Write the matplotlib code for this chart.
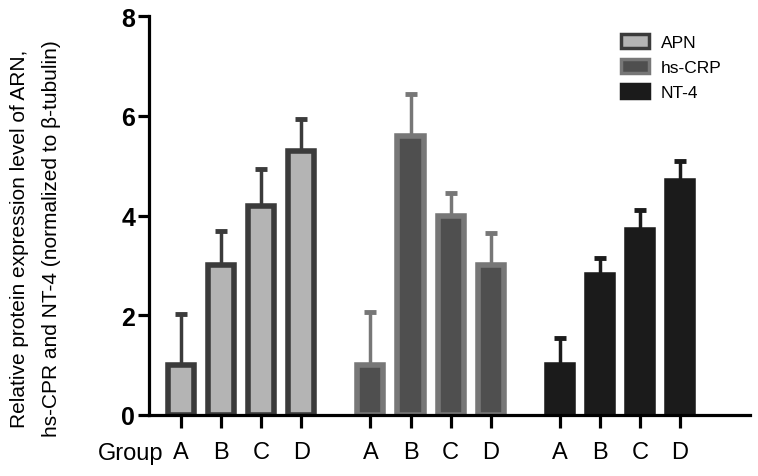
import matplotlib.pyplot as plt
import numpy as np
import matplotlib.patches as mpatches

plt.rcParams['font.family'] = ['Liberation Sans', 'DejaVu Sans']

# data
groups = ["A", "B", "C", "D"]
series = ["APN", "hs-CRP", "NT-4"]
apn = [1.0, 3.0, 4.2, 5.3]
apn_err = [1.02, 0.70, 0.74, 0.64]
crp = [1.0, 5.6, 4.0, 3.0]
crp_err = [1.06, 0.83, 0.46, 0.65]
nt4 = [1.0, 2.8, 3.72, 4.7]
nt4_err = [0.55, 0.35, 0.40, 0.40]

faces = ["#b4b4b4", "#4f4f4f", "#1b1b1b"]
edges = ["#3b3b3b", "#777777", "#1b1b1b"]

fig = plt.figure(figsize=(7.58, 4.77), dpi=100)
ax = fig.add_axes([0.1966, 0.128, 0.7924, 0.836])

step = 4.73
xs_all = []
handles = []
for k, (vals, errs) in enumerate([(apn, apn_err), (crp, crp_err), (nt4, nt4_err)]):
    x = np.arange(4) + k * step
    xs_all += list(x)
    ax.bar(x, vals, width=0.65, color=faces[k], edgecolor=edges[k], linewidth=4.0, zorder=2)
    ax.errorbar(x, vals, yerr=[np.zeros(4), errs], fmt='none', ecolor=edges[k],
                elinewidth=2.5, capsize=4.5, capthick=3.5, zorder=1)
    handles.append(mpatches.Patch(facecolor=faces[k], edgecolor=edges[k], linewidth=2.5, label=series[k]))

ax.set_xlim(-0.8, 14.2)
ax.set_ylim(0, 8)
ax.set_yticks([0, 2, 4, 6, 8])
ax.set_xticks(xs_all)
ax.set_xticklabels(groups * 3, fontsize=17)
for lab in ax.get_yticklabels():
    lab.set_fontsize(18)
    lab.set_fontweight('bold')

for s in ['top', 'right']:
    ax.spines[s].set_visible(False)
for s in ['left', 'bottom']:
    ax.spines[s].set_linewidth(2.3)
ax.tick_params(axis='x', width=2.3, length=9, pad=10)
ax.tick_params(axis='y', width=2.3, length=8, pad=2)

ax.text(-0.45, -0.095, "Group", transform=ax.get_xaxis_transform(), ha='right', va='center', fontsize=17)

fig.text(0.026, 0.5, "Relative protein expression level of ARN,", rotation=90, ha='center', va='center', fontsize=15)
fig.text(0.068, 0.5, "hs-CPR and NT-4 (normalized to \u03b2-tubulin)", rotation=90, ha='center', va='center', fontsize=15)

ax.legend(handles=handles, loc='upper left', bbox_to_anchor=(0.76, 0.995), frameon=False,
          fontsize=12.5, handlelength=1.6, handleheight=0.9, labelspacing=0.5, handletextpad=0.7)

plt.savefig("out.png", dpi=100)
